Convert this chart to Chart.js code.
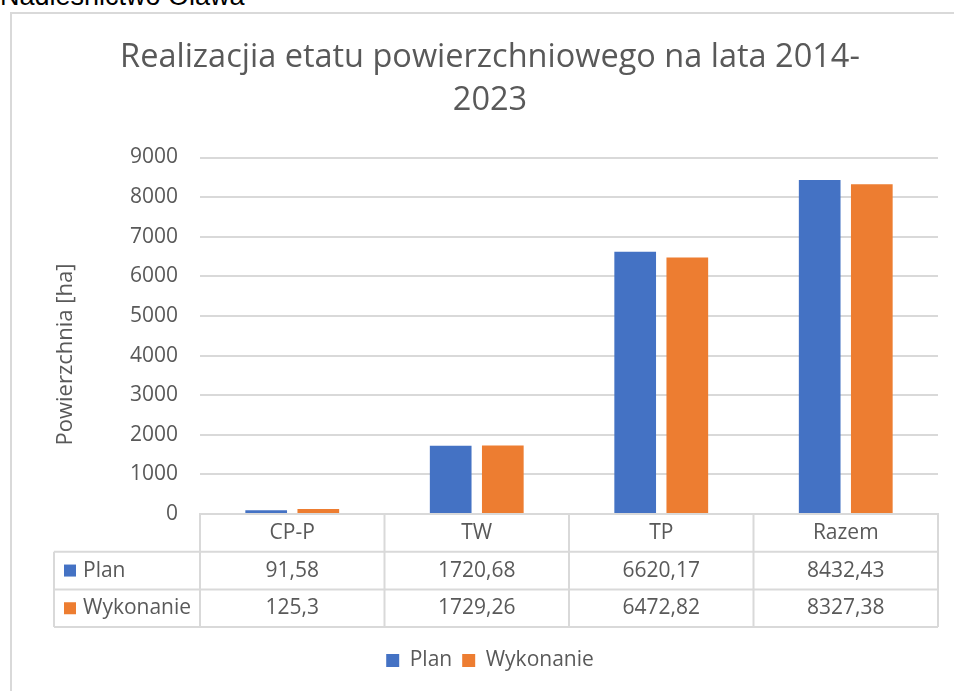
<!DOCTYPE html>
<html>
<head>
<meta charset="utf-8">
<script src="https://cdn.jsdelivr.net/npm/chart.js@4.4.1/dist/chart.umd.min.js"></script>
<style>
  html, body { margin: 0; padding: 0; background: #fff; overflow: hidden; }
  #wrap { position: relative; width: 954px; height: 691px; }
  #top { position: absolute; left: 0; top: -17px; font: 27px/27px "Liberation Sans", Arial, sans-serif; color: #000; white-space: nowrap; }
  #frame { position: absolute; left: 10px; top: 12px; width: 960px; height: 700px; border: 2px solid #d9d9d9; box-sizing: border-box; }
  #c { position: absolute; left: 0; top: 0; }
</style>
</head>
<body>
<div id="wrap">
  <div id="top">Nadleśnictwo Oława</div>
  <div id="frame"></div>
  <canvas id="c" width="954" height="691"></canvas>
</div>
<script>
// dane z wykresu
const kategorie = ['CP-P', 'TW', 'TP', 'Razem'];
const plan = [91.58, 1720.68, 6620.17, 8432.43];
const wykonanie = [125.3, 1729.26, 6472.82, 8327.38];
const planTxt = ['91,58', '1720,68', '6620,17', '8432,43'];
const wykonanieTxt = ['125,3', '1729,26', '6472,82', '8327,38'];

const FONT = '"Open Sans", sans-serif';
const SZARY = '#595959';
const LINIA = '#d9d9d9';
const NIEBIESKI = '#4472C4';
const POMARANCZ = '#ED7D31';

// tabela danych pod osia X + tytul osi Y
const tabelaPlugin = {
    id: 'tabela',
    afterDraw(chart) {
        const ctx = chart.ctx;
        const x = chart.scales.x;
        const area = chart.chartArea;
        const rowH = 37.7;
        const y0 = area.bottom;
        const y1 = y0 + rowH, y2 = y1 + rowH, y3 = y2 + rowH;
        const left = 54;
        const colW = x.width / kategorie.length;

        ctx.save();
        ctx.strokeStyle = LINIA;
        ctx.lineWidth = 2;
        ctx.beginPath();
        // poziome
        [y1, y2, y3].forEach(y => { ctx.moveTo(left, y); ctx.lineTo(area.right, y); });
        // pionowe
        ctx.moveTo(left, y1); ctx.lineTo(left, y3);
        for (let i = 0; i <= kategorie.length; i++) {
            const xx = area.left + i * colW;
            ctx.moveTo(xx, y0); ctx.lineTo(xx, y3);
        }
        ctx.stroke();

        ctx.fillStyle = SZARY;
        ctx.font = '21px ' + FONT;
        ctx.textAlign = 'center';
        ctx.textBaseline = 'middle';
        kategorie.forEach((k, i) => {
            const cx = x.getPixelForValue(i);
            ctx.fillText(k, cx, (y0 + y1) / 2);
            ctx.fillText(planTxt[i], cx, (y1 + y2) / 2);
            ctx.fillText(wykonanieTxt[i], cx, (y2 + y3) / 2);
        });

        // legenda w tabeli
        ctx.textAlign = 'left';
        ctx.fillStyle = NIEBIESKI;
        ctx.fillRect(64, (y1 + y2) / 2 - 6, 12, 12);
        ctx.fillStyle = POMARANCZ;
        ctx.fillRect(64, (y2 + y3) / 2 - 6, 12, 12);
        ctx.fillStyle = SZARY;
        ctx.fillText('Plan', 83, (y1 + y2) / 2);
        ctx.fillText('Wykonanie', 83, (y2 + y3) / 2);

        // tytul osi Y
        ctx.translate(66, (area.top + y1) / 2);
        ctx.rotate(-Math.PI / 2);
        ctx.textAlign = 'center';
        ctx.font = '22px ' + FONT;
        ctx.fillText('Powierzchnia [ha]', 0, 0);
        ctx.restore();
    }
};

new Chart(document.getElementById('c'), {
    type: 'bar',
    data: {
        labels: kategorie,
        datasets: [
            { label: 'Plan', data: plan, backgroundColor: NIEBIESKI },
            { label: 'Wykonanie', data: wykonanie, backgroundColor: POMARANCZ }
        ]
    },
    options: {
        responsive: false,
        animation: false,
        categoryPercentage: 0.565,
        barPercentage: 0.8,
        layout: { padding: { left: 42, right: 16, top: 0, bottom: 10 } },
        plugins: {
            title: {
                display: true,
                text: ['Realizacjia etatu powierzchniowego na lata 2014-', '2023'],
                color: SZARY,
                font: { family: FONT, size: 32.5, weight: 'normal', lineHeight: 1.3 },
                padding: { top: 37, bottom: 36 }
            },
            legend: {
                position: 'bottom',
                labels: {
                    color: SZARY,
                    font: { family: FONT, size: 21 },
                    boxWidth: 13,
                    boxHeight: 13,
                    padding: 10
                }
            },
            tooltip: { enabled: false }
        },
        scales: {
            x: {
                grid: { display: false },
                border: { color: LINIA, width: 2 },
                ticks: { display: false },
                afterFit(s) { s.height = 126; }
            },
            y: {
                min: 0,
                max: 9000,
                border: { display: false },
                grid: { color: LINIA, lineWidth: 2, drawTicks: false },
                ticks: {
                    stepSize: 1000,
                    color: SZARY,
                    padding: 22,
                    font: { family: FONT, size: 21 },
                    callback: v => String(v)
                },
                afterFit(s) { s.width = 158; }
            }
        }
    },
    plugins: [tabelaPlugin]
});
</script>
</body>
</html>
